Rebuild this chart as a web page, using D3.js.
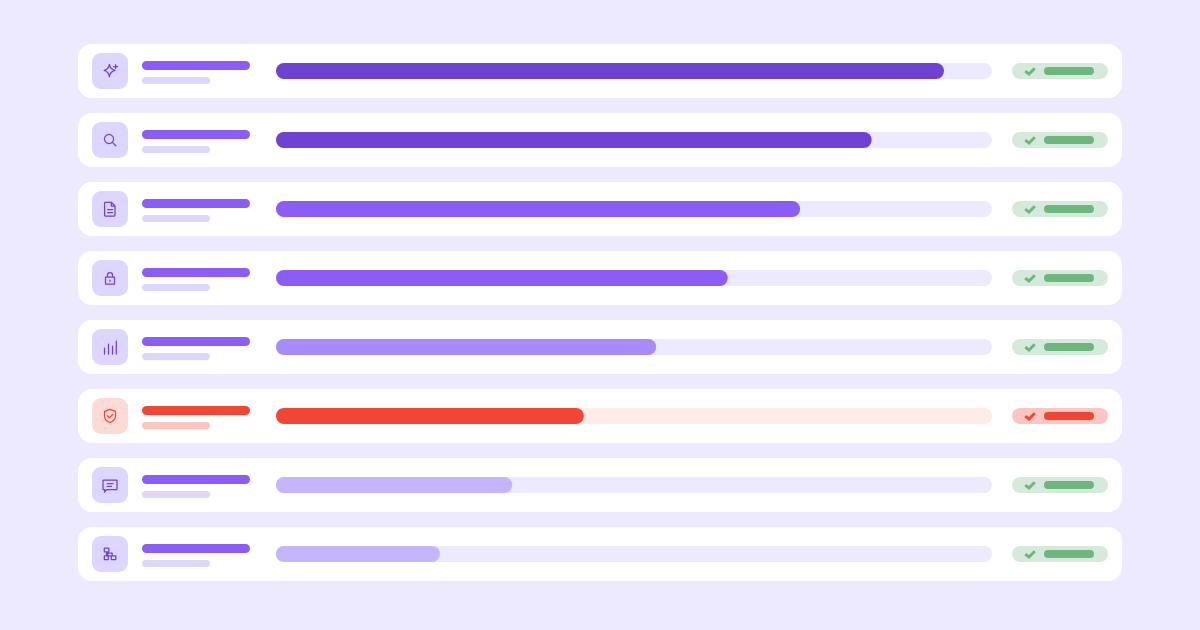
<!DOCTYPE html>
<html>
<head>
<meta charset="utf-8">
<script src="https://cdn.jsdelivr.net/npm/d3@7/dist/d3.min.js"></script>
<style>
html,body{margin:0;padding:0;background:#ede9fe;overflow:hidden}
svg{display:block}
</style>
</head>
<body>
<svg id="c" width="1200" height="630"></svg>
<script>
const rows = ["spark","search","file","lock","bars","shield","chat","tree"];
const values = [93.3,83.2,73.2,63.1,53.1,43.0,33.0,22.9];
const tones = ["dark","dark","mid","mid","soft","alert","pale","pale"];

const fillColors = {dark:"#6f42d1",mid:"#8b5cf6",soft:"#a78bfa",pale:"#c4b5fd",alert:"#f04633"};
const icons = {
  spark:"M-0.6 -6.6 C0 -3 1.2 -1.6 5 -0.6 C1.2 0.4 0 1.8 -0.6 5.6 C-1.2 1.8 -2.4 0.4 -5.8 -0.6 C-2.4 -1.6 -1.2 -3 -0.6 -6.6Z M5.6 -6.4 V-2.4 M3.6 -4.4 H7.6",
  search:"M-1 -5.6 A4.6 4.6 0 1 0 -0.99 -5.6 M2.4 2.4 L5.8 5.8",
  file:"M-5.4 -6 A1 1 0 0 1 -4.4 -6.7 H1.3 L5 -3 V6 A1.2 1.2 0 0 1 3.8 7.2 H-4.2 A1.2 1.2 0 0 1 -5.4 6Z M1.3 -6.7 V-3 H5 M-2.4 0.5 H2.6 M-2.4 3.5 H2.6",
  lock:"M-4.5 -0.8 H4.5 V6 H-4.5Z M-2.5 -0.8 V-3 A2.5 2.5 0 0 1 2.5 -3 V-0.8 M0 2 V3.4",
  bars:"M-5.5 7 V1 M-1.5 7 V-3 M2.5 7 V-1 M6.3 7 V-6",
  shield:"M0 -6.6 L5.5 -4.6 V0 C5.5 3.2 3 5.4 0 6.5 C-3 5.4 -5.5 3.2 -5.5 0 V-4.6Z M-2.6 -0.2 L-0.6 1.9 L2.8 -1.7",
  chat:"M-7 -5 H7 V4.6 H-3.4 L-5.4 7 V4.6 H-7Z M-2.8 -1.4 H3 M-2.8 1.4 H1.4",
  tree:"M-5.7 -5.8 H-1.2 V-2.2 H-5.7Z M-5.7 1.9 H-1.7 V5.5 H-5.7Z M1.3 1.9 H5.8 V5.5 H1.3Z M-2.3 -0.8 H2.2 V1.9 H-2.3Z M-3.5 -2.2 V1.9"
};
const check = "M-4.8 0.1 L-1 3 L4.8 -2.8";

const svg = d3.select("#c");
const x = d3.scaleLinear().domain([0,100]).range([276,992]);
const y = d3.scalePoint().domain(rows).range([71,554]);

const row = svg.selectAll("g.row").data(rows).join("g")
  .attr("class","row")
  .attr("transform",d=>`translate(0,${y(d)})`);

const isAlert = (i)=>tones[i]==="alert";

row.append("rect").attr("x",78).attr("y",-27).attr("width",1044).attr("height",54).attr("rx",14).attr("fill","#fff");
row.append("rect").attr("x",92).attr("y",-18).attr("width",36).attr("height",36).attr("rx",9)
  .attr("fill",(d,i)=>isAlert(i)?"#fcdad5":"#ddd6fe");
row.append("path").attr("transform","translate(110,0)").attr("d",d=>icons[d])
  .attr("fill","none").attr("stroke-width",1.25).attr("stroke-linejoin","round").attr("stroke-linecap","round")
  .attr("stroke",(d,i)=>isAlert(i)?"#f04633":"#6f42d1");
row.append("rect").attr("x",142).attr("y",-10).attr("width",108).attr("height",9).attr("rx",4.5)
  .attr("fill",(d,i)=>isAlert(i)?"#f04633":"#8b5cf6");
row.append("rect").attr("x",142).attr("y",6).attr("width",68).attr("height",7).attr("rx",3.5)
  .attr("fill",(d,i)=>isAlert(i)?"#fbc6bf":"#ddd6fe");
row.append("rect").attr("x",x(0)).attr("y",-8).attr("width",x(100)-x(0)).attr("height",16).attr("rx",8)
  .attr("fill",(d,i)=>isAlert(i)?"#fdecea":"#ede9fe");
row.append("rect").attr("x",x(0)).attr("y",-8).attr("width",(d,i)=>x(values[i])-x(0)).attr("height",16).attr("rx",8)
  .attr("fill",(d,i)=>fillColors[tones[i]]);
row.append("rect").attr("x",1012).attr("y",-8).attr("width",96).attr("height",16).attr("rx",8)
  .attr("fill",(d,i)=>isAlert(i)?"#fbc6c1":"#d5eadb");
row.append("path").attr("transform","translate(1030,0)").attr("d",check)
  .attr("fill","none").attr("stroke-width",2.9)
  .attr("stroke",(d,i)=>isAlert(i)?"#f04633":"#6db77f");
row.append("rect").attr("x",1044).attr("y",-4).attr("width",50).attr("height",8).attr("rx",4)
  .attr("fill",(d,i)=>isAlert(i)?"#f04633":"#6db77f");
</script>
</body>
</html>
